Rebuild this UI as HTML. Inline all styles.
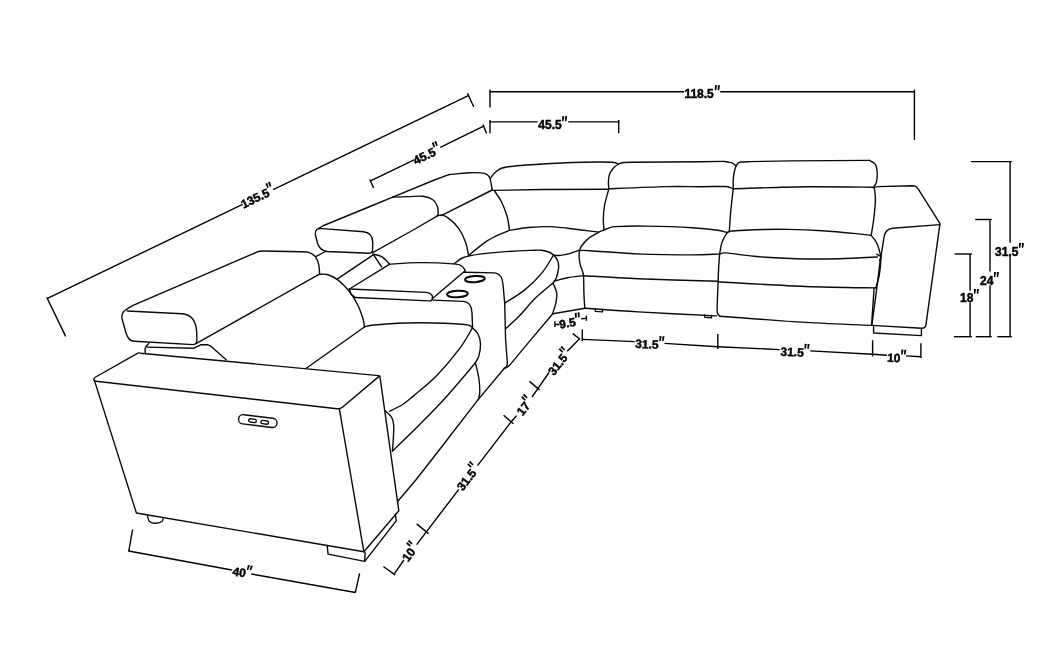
<!DOCTYPE html>
<html><head><meta charset="utf-8"><title>Sectional dimensions</title>
<style>
html,body{margin:0;padding:0;background:#fff;}
body{width:1057px;height:665px;overflow:hidden;}
svg{display:block;}
text{font-family:"Liberation Sans",sans-serif;font-weight:bold;font-size:12px;fill:#000;stroke:#000;stroke-width:0.45px;}
svg{filter:grayscale(1);}
</style></head><body>
<svg width="1057" height="665" viewBox="0 0 1057 665">
<rect width="1057" height="665" fill="#fff"/>
<g fill="none" stroke="#0a0a0a" stroke-width="1.4" stroke-linecap="round" stroke-linejoin="round">
<path d="M137.9,353.1 L94.8,377.5 Q93.4,378.4 94.1,380.0 Q94.6,381.1 96.2,381.3 L337.0,408.7 Q340.2,409.1 342.4,407.2 L379.0,376.4 Q379.9,375.7 378.6,375.6 L140.5,353.2 Q138.8,352.7 137.9,353.1Z"/>
<path d="M94.4,380.4 L136.4,513 L363.9,551.8 L339.4,409.2"/>
<path d="M379.9,376.3 L398.8,510.7 L363.9,551.8"/>
<path d="M327.2,546.1 L328.1,554.1 L364.7,561.4 L365.1,552.4"/>
<path d="M364.7,561.4 L396.2,520.9 L395.4,514.3"/>
<path d="M147.5,515.9 C147.8,516.8 148.2,520.3 149.5,521.5 C150.8,522.7 153,523.3 155.1,523.3 C157.2,523.3 160.6,522.3 161.9,521.5 C163.2,520.7 162.9,519.1 163.1,518.6"/>
<path d="M243.8,414.7 L273,418.3 A4.6,4.6 0 0 1 271.8,427.5 L242.6,423.9 A4.6,4.6 0 0 1 243.8,414.7Z"/>
<path d="M250.5,418.8 L254.9,419.4 A1.6,1.6 0 0 1 254.5,422.6 L250.1,422 A1.6,1.6 0 0 1 250.5,418.8Z"/>
<path d="M262.7,420.4 L267.1,421 A1.6,1.6 0 0 1 266.7,424.2 L262.3,423.6 A1.6,1.6 0 0 1 262.7,420.4Z"/>
<path d="M127.2,311.0 L182,313.8 Q195.3,314.8 196.6,331 L196.9,339.5 Q197,344.4 193.2,344.6 L134.3,341.3 Q128.3,341 126,333 L122.3,319.8 Q120.6,313.5 125.5,310 Q128.5,307.7 133.1,305.3 L256.2,252.4 Q259.5,251 263,251 L301.5,251.7"/>
<path d="M301.5,251.7 C302.7,251.8 306.2,251.6 308.5,252.4 C310.8,253.2 313.6,254.6 315.3,256.6 C317,258.6 318,261.5 318.7,264.3 C319.4,267.1 319.5,272.1 319.6,273.6"/>
<path d="M196,343.6 L319.4,274.2"/>
<path d="M145.3,353.4 C145.3,352.5 144.7,349.6 145.3,347.9 C145.9,346.2 148.2,344.1 148.8,343.4"/>
<path d="M147.1,347.1 L193.9,348.2 L200.7,344.8 L207.5,344.8 Q211,345.5 214,349 L226.2,359.8"/>
<path d="M319.6,274.4 C320.9,274.4 324.2,273.6 327.2,274.5 C330.2,275.4 333.8,276.8 337.5,279.6 C341.2,282.4 346,287.2 349.4,291.5 C352.8,295.8 355.6,300.6 357.9,305.2 C360.2,309.8 361.9,315.2 363,318.8 C364.1,322.4 364.2,325.6 364.4,327"/>
<path d="M364.4,327 L306.3,368.2"/>
<path d="M364.2,327 C365.9,326.7 365.4,325.7 374.1,325 C382.8,324.3 401.6,322.9 416.6,322.8 C431.6,322.7 454.9,323.6 464.3,324.5 C473.7,325.4 470.5,326.8 472.8,328.4 C475.1,329.9 476.6,331.2 477.9,333.8 C479.2,336.4 480.4,340.4 480.5,344.1 C480.6,347.8 479.7,352.9 478.8,356 C477.9,359.1 476,361.7 475.4,362.8"/>
<path d="M472,328.7 C469.9,332.1 465.1,341.4 459.2,349.2 C453.3,357 444.3,367.8 436.8,375.5 C429.3,383.2 419.8,390.6 414.1,395.4 C408.4,400.2 406.8,401.9 402.7,404.5 C398.6,407.1 391.8,410.2 389.6,411.3"/>
<path d="M475.3,363 C470,369.2 452.8,389.7 443.4,400 C434,410.3 427.7,416.4 419.2,424.9 C410.7,433.4 396.9,446.7 392.4,451.1"/>
<path d="M475.4,362.8 C476,365.4 478.1,373.3 478.8,378.1 C479.5,382.9 479.9,388.1 479.8,391.7 C479.7,395.3 478.6,398.3 478.3,399.6"/>
<path d="M385.5,411.1 C386.5,412.1 390.1,414.6 391.5,417 C392.9,419.4 393.4,421.5 393.7,425.5 C394,429.5 393.4,436.6 393.2,440.9 C393,445.2 392.5,449.4 392.4,451.1"/>
<path d="M504.6,368 L478.3,399.4 L440,449 L415.8,480 L398,501"/>
<path d="M322.6,228.6 L363.5,231.8 Q372.5,232.6 372.7,242.2 L372.6,249.5 Q372.6,253.3 369,253.2 L327.2,251.5 Q320,250.6 317.6,243.5 L315.3,234.5 Q314.2,228 322.6,228.6Z"/>
<path d="M318.6,228.4 L323.7,225.5 L370,206.5 L392.7,197.1"/>
<path d="M392.7,197.1 C395.2,197 402.9,196.7 408,196.6 C413.1,196.5 418.9,195.8 423,196.3 C427.1,196.8 430.5,198 432.9,199.7 C435.3,201.4 436.5,204.2 437.4,206.5 C438.3,208.8 438.2,211.8 438.2,213.3 C438.2,214.9 437.5,215.4 437.4,215.8"/>
<path d="M316.2,256.3 L325.5,251.5"/>
<path d="M372.3,252.9 L413.2,230 L437.4,215.8"/>
<path d="M337.5,278.9 L373.2,254.8"/>
<path d="M373.2,254.3 L381.7,266.8"/>
<path d="M373.2,254.1 C374.6,254.5 379,255 381.7,256.6 C384.4,258.2 388.1,262.7 389.4,263.9"/>
<path d="M349.4,289 L389.4,264.3"/>
<path d="M389.4,264.3 C394.4,264 408.5,262.7 419.2,262.6 C429.9,262.5 446.2,263.3 453.3,263.9 C460.4,264.5 459.8,264.9 461.8,266 C463.8,267.1 464.6,269.8 465.2,270.6"/>
<path d="M465.2,270.7 L432.8,298.3"/>
<path d="M349.4,289 L426,292.4 Q431.6,293 432.5,296.5 Q433,299.3 430.6,300.9"/>
<path d="M355.3,297.5 L429.6,300.9"/>
<path d="M349.4,289 C349.7,289.8 350,292.6 351,294 C352,295.4 354.6,296.9 355.3,297.5"/>
<path d="M464.2,272.2 L494.5,272.9 Q502.2,273.6 503,284.5 L504.7,303.2 L505.6,340 L507.3,361.5 Q507.9,366.8 504.4,368.2"/>
<path d="M432.8,300.1 L463.5,301.4 Q471.6,302 472,313 L472.6,327.6"/>
<path d="M437.4,215.8 C438.3,215.7 440.6,214.6 442.7,215.2 C444.8,215.8 447.3,217.2 450,219.4 C452.7,221.6 456.1,224.6 458.7,228.3 C461.3,232.1 463.9,237.4 465.5,241.9 C467.1,246.4 468.1,253.2 468.6,255.5"/>
<path d="M468.6,255.6 C471.2,253.5 479.4,246.2 484.3,242.8 C489.2,239.4 493.7,237.3 497.9,235.2 C502.1,233.1 507.6,231.2 509.5,230.4"/>
<path d="M454.5,263.4 C456,262.4 459.2,259.1 463.5,257.5 C467.8,255.9 474,255 480,254.1 C486,253.2 491.3,252.7 499.6,252.1 C507.9,251.5 523,250.7 530,250.4 C537,250.1 538.2,249.9 541.4,250.2 C544.5,250.5 546.9,251.2 548.9,252 C550.9,252.8 552,253.6 553.5,255.1 C555,256.6 556.9,258.7 557.7,260.8 C558.6,262.9 558.8,264.8 558.6,267.6 C558.4,270.4 557.4,274.8 556.5,277.4 C555.6,280 553.8,282.1 553.2,283"/>
<path d="M553.2,255.5 C551.4,258.4 546.9,266.9 542.2,272.6 C537.5,278.3 531.4,284.5 525.1,289.6 C518.9,294.7 508.1,300.9 504.7,303.2"/>
<path d="M553.2,282.8 C550.2,285.4 540.9,292.7 535.4,298.1 C529.9,303.5 525,310.1 520,315.2 C515,320.3 508,326.5 505.6,328.8"/>
<path d="M553.2,283.6 C553.8,285.2 556.3,289.7 556.7,293 C557.1,296.3 556.4,300.1 555.8,303.2 C555.2,306.3 553.8,309.8 553.2,311.7 C552.6,313.6 552.5,313.9 552.4,314.3"/>
<path d="M552.4,314.3 L528.6,342.4 L510.4,364.4 Q507.6,367.9 504.4,368.2"/>
<path d="M392.7,197.1 L434.4,180 L448.8,174.7"/>
<path d="M448.8,174.7 C452.2,174.4 463.2,172.9 469.2,172.7 C475.1,172.5 481.1,172.6 484.5,173.4 C487.9,174.2 488.5,175.4 489.6,177.3 C490.7,179.2 490.9,182.8 491.3,184.9 C491.7,187 492.1,189.2 492.2,190"/>
<path d="M492.2,190 L441.2,215.6"/>
<path d="M490.5,178.1 C491.5,177 493.8,173.2 496.5,171.3 C499.2,169.5 499.1,168.2 506.7,167 C514.3,165.8 529.2,164.8 542.2,164 C555.2,163.2 573.2,162.6 584.8,162.3 C596.4,162 606.4,162 612,162.3 C617.6,162.6 617.4,163.9 618.5,164.2"/>
<path d="M492.2,190.4 L542.2,189.5 L608.6,189.2"/>
<path d="M494.5,190.9 C495.6,192.7 499.2,197.3 501.3,201.5 C503.4,205.7 505.6,211.2 507,216 C508.4,220.8 509.1,228 509.5,230.4"/>
<path d="M509.5,230.4 C512.7,229.9 522,228.1 528.6,227.5 C535.2,226.9 542.5,226.5 549,226.6 C555.5,226.7 559.5,227.4 567.7,228.3 C575.9,229.2 593.3,231.5 598.4,232.1"/>
<path d="M553.5,255.2 C554.6,255.2 557.6,255.7 560.3,255.4 C562.9,255.1 566.2,254.5 569.4,253.6 C572.6,252.7 577.7,250.8 579.4,250.2"/>
<path d="M579.3,250.2 C579.3,251.4 579,255.2 579.2,257.7 C579.4,260.2 579.7,262.4 580.4,265.3 C581.1,268.2 582.8,270.2 583.4,274.8 C584,279.4 583.7,287.4 583.9,293 C584.1,298.6 584.6,305.8 584.8,308.3"/>
<path d="M554.1,281.1 C556.4,280.5 562.9,278.6 567.7,277.7 C572.5,276.8 580.5,276 583.1,275.6"/>
<path d="M553,313.8 L584.8,308.3"/>
<path d="M608.8,188.8 C608.7,187.6 608.3,184.2 608.4,181.8 C608.5,179.4 608.7,176.5 609.5,174.2 C610.3,171.9 611.8,169.9 613.3,168.2 C614.8,166.5 616.9,164.9 618.6,164 C620.3,163.1 621.3,162.8 623.5,162.5 C625.7,162.2 630.6,162.2 632,162.2"/>
<path d="M632,162.2 L700,161.7 L724.2,161.4"/>
<path d="M724.2,161.4 C725.5,161.7 729.8,162.2 731.8,162.9 C733.8,163.6 735.3,165.3 736,165.8"/>
<path d="M736,165.8 C735.7,167 734.6,170.3 734.1,172.7 C733.6,175.1 733.3,177.6 733.2,180.3 C733.1,183 733.3,187.4 733.3,188.8"/>
<path d="M608.7,188.8 C618.4,188.4 651.4,186.9 666.6,186.6 C681.8,186.2 690.3,186.7 700,186.7 C709.7,186.7 720,186.3 725,186.5 C730,186.7 728.9,187.3 730.3,187.7 C731.7,188.1 732.8,188.8 733.3,189"/>
<path d="M736,166 C736.3,165.6 737.1,164 737.9,163.3 C738.7,162.6 738.9,162.3 740.9,162 C742.9,161.7 748.5,161.7 750,161.6"/>
<path d="M750,161.6 L792,160.9 L869.4,160.4"/>
<path d="M869.4,160.4 C870.4,161.1 874.2,162.3 875.5,164.5 C876.8,166.7 877.1,170.8 877.2,173.8 C877.4,176.8 877,180.2 876.4,182.4 C875.8,184.7 874,186.5 873.5,187.3"/>
<path d="M733.3,188.7 C745.3,188.4 781.8,187.1 805.1,186.8 C828.4,186.6 861.9,187.1 873.3,187.2"/>
<path d="M608.7,189.4 C608,192.1 605.4,200.5 604.5,205.5 C603.6,210.5 603.4,215.2 603.3,219.2 C603.2,223.2 603.9,227.7 604,229.4"/>
<path d="M579.8,250.1 C580.1,249.4 580.1,247.9 581.5,246 C582.9,244.1 585.4,240.9 588.2,238.6 C591,236.3 595.8,233.8 598.4,232.4 C601,231 602.1,230.8 604,230 C605.9,229.2 608.1,228.3 610,227.7 C611.9,227.1 609.8,226.9 615.5,226.6 C621.2,226.3 631.7,225.9 644.5,226.1 C657.3,226.3 680,227 692.2,227.7 C704.4,228.4 711.9,229.4 717.7,230.2 C723.5,231 725.5,232.1 727.1,232.5"/>
<path d="M733.1,189.9 C732.7,193.9 731.1,207.1 730.5,214.1 C729.9,221.1 729.5,228.9 729.3,231.9"/>
<path d="M728.5,231.4 C732.8,231.1 744.2,230 754.1,229.7 C764,229.4 776.8,229.2 788.1,229.4 C799.5,229.6 810.9,230 822.2,230.7 C833.6,231.4 848,232.8 856.2,233.6 C864.4,234.4 868.7,235 871.2,235.3"/>
<path d="M874.4,188.2 C874.6,190.2 875.5,195.1 875.4,200.4 C875.3,205.7 874.3,214.2 873.6,220 C872.9,225.8 871.6,232.7 871.2,235.2"/>
<path d="M728.6,231.9 C728.4,232.1 728.2,231.2 727.1,232.8 C726,234.5 723.4,238.4 722.2,241.8 C721,245.2 720.4,248.7 719.8,253.2 C719.2,257.7 718.9,263.8 718.6,268.6 C718.3,273.4 718.3,276.5 718.1,282.2 C717.9,287.9 717.4,297.5 717.3,302.6 C717.2,307.7 716.9,310.5 717.3,312.8 C717.7,315.1 719.5,315.6 719.9,316.2"/>
<path d="M579.8,250.5 C581.5,250.5 579.8,250.1 590,250.7 C600.2,251.3 624.1,253.4 641.1,254.1 C658.1,254.8 679.2,254.9 692.2,254.9 C705.2,254.9 714.9,254.2 719.4,254.1"/>
<path d="M583.6,275.7 C592.7,276.2 615.7,277.8 638.1,278.7 C660.5,279.6 704.9,280.9 718.2,281.3"/>
<path d="M585,308.2 C593.9,308.8 616.2,310.6 638.1,311.9 C660,313.2 703.4,315.2 716.5,315.9"/>
<path d="M595.2,309.3 L595.5,311.4 L602.4,311.9 L602.7,309.9"/>
<path d="M704.5,314.9 L704.8,317.2 L711.4,317.7 L711.7,315.6"/>
<path d="M719.8,254.1 C720.9,253.9 720.5,252.5 726.2,252.9 C731.9,253.3 742.4,255.3 754.1,256.3 C765.8,257.3 782.4,258.3 796.6,258.7 C810.8,259.1 825.7,259 839.2,258.7 C852.7,258.4 871.1,257.3 877.5,257"/>
<path d="M871.2,235.3 C872.1,236.6 875.2,240 876.7,243 C878.2,246 879.4,250.6 880.1,253.2 C880.8,255.8 881,254.8 880.9,258.5 C880.8,262.2 880.1,270.6 879.2,275.5 C878.4,280.4 876.4,285.8 875.8,287.8"/>
<path d="M718.1,281.7 C732.6,282.5 778.8,285.5 805.1,286.5 C831.4,287.5 864,287.7 875.8,287.9"/>
<path d="M719.9,316.2 C734.1,317.2 779.8,320.9 805.1,322.4 C830.4,323.9 860.5,324.9 871.6,325.4"/>
<path d="M874.1,288.3 L871.6,324.9"/>
<path d="M876.8,254.2 L881,256.6 L879.6,261"/>
<path d="M873.8,187.8 Q875.5,186.8 878.1,186.6 L913,185.8 Q916.2,185.8 917.8,188.3 L939.9,223.4"/>
<path d="M939.9,224.6 L892.6,228.3 Q885.2,229.2 884.1,236.9 L880.1,261.7 L876.7,289 L871.8,325.3"/>
<path d="M871.8,325.4 L921.8,328.3 Q925.4,328.4 926,324.4 L939.9,224.2"/>
<path d="M873.6,326.7 L873.6,333 L921.4,335.6 L921.4,328.8"/>
</g>
<g fill="none" stroke="#000" stroke-width="1.4" stroke-linecap="butt" stroke-linejoin="miter">
<path d="M47.5,298.4 L242.6,204.4"/>
<path d="M273.2,189.7 L468.3,95.6"/>
<path d="M46.7,297.2 L65.7,336.4"/>
<path d="M467.5,93.2 L473.8,107"/>
<path d="M370.5,180.8 L414.7,159.6"/>
<path d="M440.3,147.3 L483.7,126.2"/>
<path d="M369.8,179.5 L373.6,187.9"/>
<path d="M483,124.6 L486.5,133.4"/>
<path d="M490,89.5 L490,107.5"/>
<path d="M489.4,91.8 L684.2,91.8"/>
<path d="M720.2,91.8 L915,91.8"/>
<path d="M914.4,89.5 L914.4,139.9"/>
<path d="M490,120 L490,133.2"/>
<path d="M489.4,121.9 L537.6,121.9"/>
<path d="M568.2,121.9 L619.3,121.9"/>
<path d="M618.7,120 L618.7,133.2"/>
<path d="M970.9,161.6 L1011.8,161.6"/>
<path d="M1010.1,161.6 L1010.1,242.8"/>
<path d="M1010.1,255.2 L1010.1,336.7"/>
<path d="M997.3,336.7 L1011.8,336.7"/>
<path d="M975.2,219.5 L991.7,219.5"/>
<path d="M990,219.5 L990,271.4"/>
<path d="M990,285.2 L990,336.7"/>
<path d="M975.7,336.7 L991.7,336.7"/>
<path d="M954.7,254 L971.9,254"/>
<path d="M970.1,254 L970.1,290.8"/>
<path d="M970.1,302.2 L970.1,336.7"/>
<path d="M953.9,336.7 L971.9,336.7"/>
<path d="M582.3,339.4 L634.7,341.6"/>
<path d="M664.5,343.4 L717.8,346.7 L779.6,349.6"/>
<path d="M810.2,350.9 L872.5,354.3 L886.9,355.2"/>
<path d="M906.1,355.9 L920.9,356.8"/>
<path d="M582.3,329.4 L582.3,340.9"/>
<path d="M717.8,334 L717.8,348.9"/>
<path d="M872.6,340.2 L872.6,356.4"/>
<path d="M920.9,343.3 L920.9,358.1"/>
<path d="M554.9,321.3 L554.9,326.9"/>
<path d="M554.9,324.2 L559.2,324.7"/>
<path d="M581.3,318.7 L586.4,318.4"/>
<path d="M586.4,315.7 L586.4,320.8"/>
<path d="M579.6,338.8 L567.2,351.3"/>
<path d="M549,372.5 L537.9,388.6 L532,397"/>
<path d="M516.6,415.8 L511.6,421.3 L477.5,465.6"/>
<path d="M458.8,489.4 L426.9,531.1 L416.7,544.7"/>
<path d="M403.9,560 L394.5,573.7"/>
<path d="M572.7,333.6 L580.2,339.2"/>
<path d="M529.4,381.4 L539.6,389.9"/>
<path d="M503.6,415.3 L513.5,423.8"/>
<path d="M416.7,523.9 L428.6,533.6"/>
<path d="M383.4,566.5 L395,574.9"/>
<path d="M128.7,551 L231.8,570"/>
<path d="M251.3,574 L355.5,592.5"/>
<path d="M132.6,529.5 L128.7,551.6"/>
<path d="M359.6,573.3 L355.3,592.6"/>
</g>
<g transform="translate(257.6,197) rotate(-25.8)"><text x="-17.8" y="4.3">135.5</text><path d="M12.8,-8.6 L14.9,-8.6 L14.1,-3.7 L12.6,-3.7 Z" fill="#000"/><path d="M15.7,-8.6 L17.8,-8.6 L17,-3.7 L15.5,-3.7 Z" fill="#000"/></g>
<g transform="translate(427,154.8) rotate(-25.8)"><text x="-14.5" y="4.3">45.5</text><path d="M9.4,-8.6 L11.5,-8.6 L10.7,-3.7 L9.3,-3.7 Z" fill="#000"/><path d="M12.3,-8.6 L14.4,-8.6 L13.6,-3.7 L12.2,-3.7 Z" fill="#000"/></g>
<g transform="translate(702.2,93.9) rotate(0)"><text x="-17.8" y="4.3">118.5</text><path d="M12.8,-8.6 L14.9,-8.6 L14.1,-3.7 L12.6,-3.7 Z" fill="#000"/><path d="M15.7,-8.6 L17.8,-8.6 L17,-3.7 L15.5,-3.7 Z" fill="#000"/></g>
<g transform="translate(552.8,124.9) rotate(0)"><text x="-14.5" y="4.3">45.5</text><path d="M9.4,-8.6 L11.5,-8.6 L10.7,-3.7 L9.3,-3.7 Z" fill="#000"/><path d="M12.3,-8.6 L14.4,-8.6 L13.6,-3.7 L12.2,-3.7 Z" fill="#000"/></g>
<g transform="translate(1009.6,251.5) rotate(0)"><text x="-14.5" y="4.3">31.5</text><path d="M9.4,-8.6 L11.5,-8.6 L10.7,-3.7 L9.3,-3.7 Z" fill="#000"/><path d="M12.3,-8.6 L14.4,-8.6 L13.6,-3.7 L12.2,-3.7 Z" fill="#000"/></g>
<g transform="translate(989.6,280.6) rotate(0)"><text x="-9.5" y="4.3">24</text><path d="M4.4,-8.6 L6.5,-8.6 L5.7,-3.7 L4.3,-3.7 Z" fill="#000"/><path d="M7.3,-8.6 L9.4,-8.6 L8.6,-3.7 L7.2,-3.7 Z" fill="#000"/></g>
<g transform="translate(969.6,297.5) rotate(0)"><text x="-9.5" y="4.3">18</text><path d="M4.4,-8.6 L6.5,-8.6 L5.7,-3.7 L4.3,-3.7 Z" fill="#000"/><path d="M7.3,-8.6 L9.4,-8.6 L8.6,-3.7 L7.2,-3.7 Z" fill="#000"/></g>
<g transform="translate(649.8,344.2) rotate(2.6)"><text x="-14.5" y="4.3">31.5</text><path d="M9.4,-8.6 L11.5,-8.6 L10.7,-3.7 L9.3,-3.7 Z" fill="#000"/><path d="M12.3,-8.6 L14.4,-8.6 L13.6,-3.7 L12.2,-3.7 Z" fill="#000"/></g>
<g transform="translate(794.9,352) rotate(2.6)"><text x="-14.5" y="4.3">31.5</text><path d="M9.4,-8.6 L11.5,-8.6 L10.7,-3.7 L9.3,-3.7 Z" fill="#000"/><path d="M12.3,-8.6 L14.4,-8.6 L13.6,-3.7 L12.2,-3.7 Z" fill="#000"/></g>
<g transform="translate(896.6,357.9) rotate(3)"><text x="-9.5" y="4.3">10</text><path d="M4.4,-8.6 L6.5,-8.6 L5.7,-3.7 L4.3,-3.7 Z" fill="#000"/><path d="M7.3,-8.6 L9.4,-8.6 L8.6,-3.7 L7.2,-3.7 Z" fill="#000"/></g>
<g transform="translate(570.1,322.6) rotate(-10)"><text x="-11.1" y="4.3">9.5</text><path d="M6.1,-8.6 L8.2,-8.6 L7.4,-3.7 L5.9,-3.7 Z" fill="#000"/><path d="M9,-8.6 L11.1,-8.6 L10.3,-3.7 L8.8,-3.7 Z" fill="#000"/></g>
<g transform="translate(559.4,362.3) rotate(-51)"><text x="-14.5" y="4.3">31.5</text><path d="M9.4,-8.6 L11.5,-8.6 L10.7,-3.7 L9.3,-3.7 Z" fill="#000"/><path d="M12.3,-8.6 L14.4,-8.6 L13.6,-3.7 L12.2,-3.7 Z" fill="#000"/></g>
<g transform="translate(525.1,406.4) rotate(-51.5)"><text x="-9.5" y="4.3">17</text><path d="M4.4,-8.6 L6.5,-8.6 L5.7,-3.7 L4.3,-3.7 Z" fill="#000"/><path d="M7.3,-8.6 L9.4,-8.6 L8.6,-3.7 L7.2,-3.7 Z" fill="#000"/></g>
<g transform="translate(468.2,477.5) rotate(-52.4)"><text x="-14.5" y="4.3">31.5</text><path d="M9.4,-8.6 L11.5,-8.6 L10.7,-3.7 L9.3,-3.7 Z" fill="#000"/><path d="M12.3,-8.6 L14.4,-8.6 L13.6,-3.7 L12.2,-3.7 Z" fill="#000"/></g>
<g transform="translate(410.3,552.4) rotate(-52.7)"><text x="-9.5" y="4.3">10</text><path d="M4.4,-8.6 L6.5,-8.6 L5.7,-3.7 L4.3,-3.7 Z" fill="#000"/><path d="M7.3,-8.6 L9.4,-8.6 L8.6,-3.7 L7.2,-3.7 Z" fill="#000"/></g>
<g transform="translate(242,572.6) rotate(10.4)"><text x="-9.5" y="4.3">40</text><path d="M4.4,-8.6 L6.5,-8.6 L5.7,-3.7 L4.3,-3.7 Z" fill="#000"/><path d="M7.3,-8.6 L9.4,-8.6 L8.6,-3.7 L7.2,-3.7 Z" fill="#000"/></g>
<ellipse cx="474.9" cy="279.1" rx="9.9" ry="3.05" transform="rotate(-4 474.9 279.1)" fill="none" stroke="#0a0a0a" stroke-width="2"/>
<ellipse cx="457.4" cy="294.0" rx="10.4" ry="3.2" transform="rotate(-3 457.4 294.0)" fill="none" stroke="#0a0a0a" stroke-width="2"/>
</svg>
</body></html>
